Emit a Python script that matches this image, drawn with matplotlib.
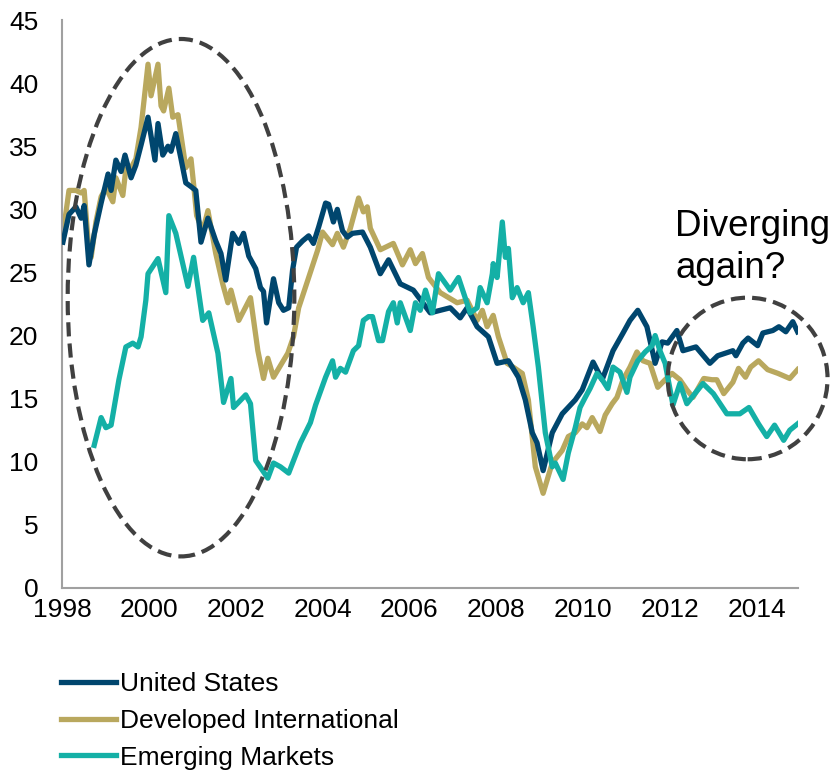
import matplotlib
matplotlib.use('Agg')
import matplotlib.pyplot as plt
from matplotlib.patches import Ellipse

plt.rcParams['font.family'] = ['Liberation Sans', 'DejaVu Sans']

US_COLOR = '#00466E'
DEV_COLOR = '#B9A85E'
EM_COLOR = '#14B0A6'

us_years = [1998.02, 1998.16, 1998.32, 1998.44, 1998.51, 1998.62, 1998.74, 1998.90,
            1999.06, 1999.13, 1999.24, 1999.36, 1999.45, 1999.59, 1999.70, 1999.82,
            1999.98, 2000.14, 2000.21, 2000.32, 2000.44, 2000.51, 2000.62, 2000.74,
            2000.85, 2000.97, 2001.08, 2001.20, 2001.36, 2001.54, 2001.66, 2001.77,
            2001.93, 2002.07, 2002.18, 2002.30, 2002.46, 2002.57, 2002.64, 2002.71,
            2002.80, 2002.87, 2002.99, 2003.10, 2003.22, 2003.31, 2003.40, 2003.54,
            2003.68, 2003.79, 2003.91, 2004.07, 2004.14, 2004.25, 2004.34, 2004.46,
            2004.57, 2004.69, 2004.92, 2005.10, 2005.33, 2005.52, 2005.79, 2006.09,
            2006.48, 2006.94, 2007.17, 2007.33, 2007.56, 2007.82, 2008.02, 2008.28,
            2008.51, 2008.67, 2008.83, 2008.94, 2009.08, 2009.29, 2009.52, 2009.82,
            2009.98, 2010.23, 2010.44, 2010.69, 2010.92, 2011.08, 2011.26, 2011.47,
            2011.66, 2011.82, 2011.95, 2012.16, 2012.30, 2012.60, 2012.92, 2013.10,
            2013.45, 2013.52, 2013.68, 2013.80, 2014.02, 2014.14, 2014.37, 2014.51,
            2014.67, 2014.83, 2014.94]
us_values = [27.4, 29.6, 30.2, 29.3, 30.3, 25.6, 28.0, 30.5,
             32.8, 31.5, 33.9, 33.0, 34.3, 32.5, 33.5, 35.1,
             37.3, 33.9, 36.8, 34.3, 35.0, 34.6, 36.0, 34.0,
             32.1, 31.8, 31.5, 27.4, 29.3, 27.5, 26.5, 24.4,
             28.1, 27.3, 28.1, 26.3, 25.3, 23.8, 23.5, 21.0,
             23.0, 24.5, 22.6, 22.0, 22.2, 25.2, 27.0, 27.5,
             27.9, 27.3, 28.6, 30.5, 30.4, 29.0, 30.0, 28.3,
             27.8, 28.1, 28.2, 27.0, 24.9, 26.0, 24.1, 23.6,
             21.8, 22.2, 21.4, 22.2, 20.7, 19.9, 17.8, 18.0,
             16.7, 14.9, 12.3, 11.5, 9.3, 12.3, 13.8, 14.9,
             15.7, 17.9, 16.5, 18.8, 20.2, 21.2, 22.0, 20.7,
             17.8, 19.5, 19.4, 20.4, 18.8, 19.1, 17.8, 18.4,
             18.8, 18.4, 19.4, 19.8, 19.2, 20.2, 20.4, 20.7,
             20.3, 21.1, 20.3]

dev_years = [1998.02, 1998.16, 1998.32, 1998.44, 1998.51, 1998.60, 1998.67, 1998.78,
             1998.90, 1999.01, 1999.17, 1999.24, 1999.40, 1999.47, 1999.59, 1999.70,
             1999.82, 1999.98, 2000.05, 2000.21, 2000.28, 2000.34, 2000.46, 2000.55,
             2000.67, 2000.85, 2000.97, 2001.03, 2001.10, 2001.24, 2001.36, 2001.54,
             2001.70, 2001.82, 2001.89, 2002.07, 2002.34, 2002.51, 2002.64, 2002.74,
             2002.87, 2003.20, 2003.33, 2003.45, 2003.68, 2003.89, 2004.00, 2004.23,
             2004.34, 2004.48, 2004.64, 2004.83, 2004.94, 2005.03, 2005.10, 2005.33,
             2005.63, 2005.84, 2006.02, 2006.14, 2006.30, 2006.44, 2006.71, 2007.10,
             2007.33, 2007.56, 2007.68, 2007.79, 2007.93, 2008.05, 2008.25, 2008.39,
             2008.60, 2008.74, 2008.90, 2009.08, 2009.29, 2009.52, 2009.66, 2009.82,
             2009.98, 2010.09, 2010.21, 2010.39, 2010.51, 2010.67, 2010.78, 2010.92,
             2011.08, 2011.24, 2011.38, 2011.54, 2011.72, 2011.89, 2012.05, 2012.23,
             2012.39, 2012.53, 2012.78, 2012.97, 2013.08, 2013.24, 2013.45, 2013.58,
             2013.74, 2013.86, 2014.04, 2014.25, 2014.49, 2014.76, 2014.94]
dev_values = [28.0, 31.5, 31.5, 31.3, 31.5, 27.5, 26.2, 29.0,
              31.0, 31.7, 30.6, 32.5, 31.1, 33.2, 33.3, 34.0,
              36.5, 41.5, 39.0, 41.5, 38.2, 37.8, 39.6, 37.3,
              37.5, 33.3, 34.0, 32.0, 29.5, 28.3, 29.9, 26.5,
              24.1, 22.6, 23.6, 21.2, 23.0, 18.8, 16.6, 18.2,
              16.7, 18.6, 19.9, 22.2, 24.6, 26.8, 28.2, 27.2,
              28.1, 27.0, 28.5, 30.9, 29.8, 30.2, 28.5, 26.8,
              27.3, 25.6, 26.8, 25.7, 26.5, 24.6, 23.4, 22.6,
              22.8, 21.2, 22.0, 20.7, 21.6, 19.9, 17.8, 17.5,
              17.0, 14.9, 9.6, 7.5, 9.9, 10.9, 12.0, 12.3,
              13.0, 12.7, 13.5, 12.4, 13.7, 14.6, 15.1, 16.5,
              17.5, 18.7, 18.0, 17.8, 15.9, 16.5, 17.0, 16.5,
              15.7, 15.1, 16.6, 16.5, 16.5, 15.4, 16.3, 17.4,
              16.7, 17.5, 18.0, 17.3, 17.0, 16.6, 17.3]

em_years = [1998.74, 1998.90, 1999.01, 1999.13, 1999.31, 1999.47, 1999.63, 1999.75,
            1999.82, 1999.93, 1999.98, 2000.21, 2000.39, 2000.46, 2000.62, 2000.90,
            2001.03, 2001.24, 2001.38, 2001.59, 2001.72, 2001.89, 2001.95, 2002.23,
            2002.34, 2002.46, 2002.74, 2002.87, 2003.03, 2003.22, 2003.49, 2003.72,
            2003.84, 2004.07, 2004.23, 2004.30, 2004.41, 2004.53, 2004.71, 2004.83,
            2004.94, 2005.06, 2005.15, 2005.29, 2005.38, 2005.52, 2005.63, 2005.72,
            2005.79, 2006.02, 2006.14, 2006.25, 2006.37, 2006.53, 2006.67, 2006.94,
            2007.13, 2007.40, 2007.56, 2007.63, 2007.79, 2007.91, 2007.93, 2008.02,
            2008.14, 2008.21, 2008.28, 2008.37, 2008.48, 2008.62, 2008.74, 2008.85,
            2008.97, 2009.13, 2009.29, 2009.36, 2009.54, 2009.66, 2009.82, 2009.93,
            2010.05, 2010.16, 2010.32, 2010.44, 2010.57, 2010.69, 2010.85, 2011.01,
            2011.08, 2011.26, 2011.43, 2011.59, 2011.66, 2011.77, 2011.89, 2012.07,
            2012.23, 2012.39, 2012.76, 2013.00, 2013.31, 2013.61, 2013.82, 2014.04,
            2014.23, 2014.41, 2014.62, 2014.76, 2014.94]
em_values = [11.3, 13.5, 12.7, 12.9, 16.5, 19.1, 19.4, 19.1,
             19.9, 22.8, 24.9, 26.1, 23.4, 29.5, 28.1, 23.9,
             26.2, 21.2, 21.8, 18.6, 14.7, 16.6, 14.3, 15.3,
             14.6, 10.1, 8.7, 9.9, 9.6, 9.1, 11.5, 13.1,
             14.5, 16.7, 18.0, 16.7, 17.4, 17.1, 18.8, 19.2,
             21.2, 21.5, 21.5, 19.6, 19.6, 21.9, 22.6, 21.0,
             22.6, 20.4, 22.6, 22.0, 23.6, 21.8, 24.9, 23.6,
             24.6, 21.8, 22.2, 23.8, 22.6, 24.9, 25.7, 24.6,
             29.0, 26.2, 26.9, 23.0, 23.8, 22.6, 23.4, 20.7,
             17.5, 12.3, 9.6, 9.9, 8.6, 10.7, 12.7, 14.3,
             15.1, 15.8, 17.0, 16.5, 15.8, 17.5, 17.1, 15.5,
             16.7, 18.0, 18.7, 19.2, 20.0, 18.8, 17.8, 14.5,
             16.2, 14.6, 16.2, 15.4, 13.8, 13.8, 14.3, 13.0,
             12.0, 12.9, 11.7, 12.5, 13.0, 13.8, 13.1, 12.5]
em_values = em_values[:len(em_years)]

year_ticks = [1998, 2000, 2002, 2004, 2006, 2008, 2010, 2012, 2014]
value_ticks = [0, 5, 10, 15, 20, 25, 30, 35, 40, 45]


def draw_chart():
    fig = plt.figure(figsize=(8.35, 7.71), dpi=100)
    ax = fig.add_axes([0.0743, 0.2374, 0.8814, 0.7366])

    lw = 3.8
    ax.plot(us_years, us_values, color=US_COLOR, lw=lw, label='United States', zorder=3)
    ax.plot(dev_years, dev_values, color=DEV_COLOR, lw=lw, label='Developed International', zorder=2)
    ax.plot(em_years, em_values, color=EM_COLOR, lw=lw, label='Emerging Markets', zorder=4)

    # dashed highlight ellipses
    for cx, cy, w, h in [(2000.74, 23.0, 5.22, 41.0), (2013.79, 16.6, 3.68, 12.8)]:
        e = Ellipse((cx, cy), w, h, fill=False, edgecolor='#404040', lw=3.0,
                    linestyle=(0, (3.4, 1.7)), clip_on=False, zorder=5)
        ax.add_patch(e)

    ax.text(2012.12, 30.0, 'Diverging\nagain?', fontsize=26.5, ha='left', va='top',
            linespacing=1.25, color='black')

    ax.set_xlim(1998, 2014.95)
    ax.set_ylim(0, 45)
    ax.set_xticks(year_ticks)
    ax.set_yticks(value_ticks)
    ax.tick_params(length=0, labelsize=19)
    ax.tick_params(axis='y', pad=17)
    ax.tick_params(axis='x', pad=7)
    for s in ['top', 'right']:
        ax.spines[s].set_visible(False)
    for s in ['left', 'bottom']:
        ax.spines[s].set_color('#A0A0A0')
        ax.spines[s].set_linewidth(1.5)

    fig.legend(loc='upper left', bbox_to_anchor=(0.073, 0.128), frameon=False,
               fontsize=19, handlelength=2.1, handletextpad=0.15, labelspacing=0.48,
               borderaxespad=0, borderpad=0)

    fig.savefig('out.png', dpi=100)


if __name__ == "__main__":
    draw_chart()
